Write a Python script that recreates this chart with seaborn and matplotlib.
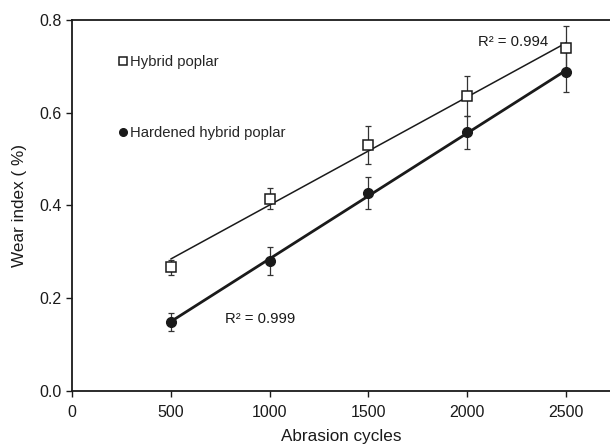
import numpy as np
import pandas as pd
import matplotlib
matplotlib.use("Agg")
import matplotlib.pyplot as plt
import seaborn as sns

# Wear index versus abrasion cycles
cycles = [500, 1000, 1500, 2000, 2500]
hybrid = [0.267, 0.415, 0.531, 0.636, 0.739]
hybrid_err = [0.016, 0.023, 0.041, 0.044, 0.049]
hardened = [0.149, 0.281, 0.427, 0.558, 0.688]
hardened_err = [0.019, 0.030, 0.035, 0.036, 0.043]
series_names = ["Hybrid poplar", "Hardened hybrid poplar"]
r2_labels = ["R\u00b2 = 0.994", "R\u00b2 = 0.999"]
x_ticks = [0, 500, 1000, 1500, 2000, 2500]
y_ticks = [0.0, 0.2, 0.4, 0.6, 0.8]

sns.set_style("ticks")
plt.rcParams["font.family"] = ["Liberation Sans", "DejaVu Sans"]

ink = "#1a1a1a"
df_h = pd.DataFrame({"x": cycles, "y": hybrid})
df_d = pd.DataFrame({"x": cycles, "y": hardened})

fig = plt.figure(figsize=(6.10, 4.44), dpi=100)
ax = fig.add_axes([0.118, 0.1194, 0.882, 0.8356])

# linear fits
sns.regplot(data=df_h, x="x", y="y", scatter=False, ci=None, ax=ax,
            line_kws=dict(color=ink, lw=1.1), truncate=True)
sns.regplot(data=df_d, x="x", y="y", scatter=False, ci=None, ax=ax,
            line_kws=dict(color=ink, lw=2.0), truncate=True)

# error bars
ax.errorbar(cycles, hybrid, yerr=hybrid_err, fmt="none", ecolor="#333333",
            elinewidth=0.9, capsize=2.5, capthick=0.9, zorder=3)
ax.errorbar(cycles, hardened, yerr=hardened_err, fmt="none", ecolor="#333333",
            elinewidth=0.9, capsize=2.5, capthick=0.9, zorder=3)

# markers
ax.plot(cycles, hybrid, linestyle="none", marker="s", ms=6.5, mfc="white",
        mec=ink, mew=1.1, zorder=4, label=series_names[0])
ax.plot(cycles, hardened, linestyle="none", marker="o", ms=7, mfc=ink,
        mec=ink, zorder=4, label=series_names[1])

ax.text(2231, 0.7526, r2_labels[0], fontsize=10.7, color=ink, ha="center", va="center")
ax.text(953, 0.155, r2_labels[1], fontsize=10.7, color=ink, ha="center", va="center")

leg = ax.legend(loc="upper left", bbox_to_anchor=(0.07, 0.921), frameon=False,
                handletextpad=0.0, handlelength=1.0, labelspacing=3.85,
                fontsize=10.7, borderaxespad=0)
for m in leg.legend_handles:
    m.set_markersize(5.5)

ax.set_xlim(0, 2722)
ax.set_ylim(0, 0.8)
ax.set_xticks(x_ticks)
ax.set_yticks(y_ticks)
ax.set_yticklabels([f"{v:.1f}" for v in y_ticks])
ax.tick_params(direction="out", length=4, width=1.0, colors=ink, labelsize=11.5,
               labelcolor=ink)
ax.tick_params(axis="x", pad=6)
ax.set_xlabel("Abrasion cycles", fontsize=12.3, color=ink)
ax.set_ylabel("Wear index ( %)", fontsize=12.3, color=ink)
ax.xaxis.set_label_coords(0.5, -0.102)
ax.yaxis.set_label_coords(-0.083, 0.5)

for s in ["left", "bottom", "top"]:
    ax.spines[s].set_linewidth(1.3)
    ax.spines[s].set_color(ink)
ax.spines["right"].set_visible(False)

fig.savefig("out.png", dpi=100)
